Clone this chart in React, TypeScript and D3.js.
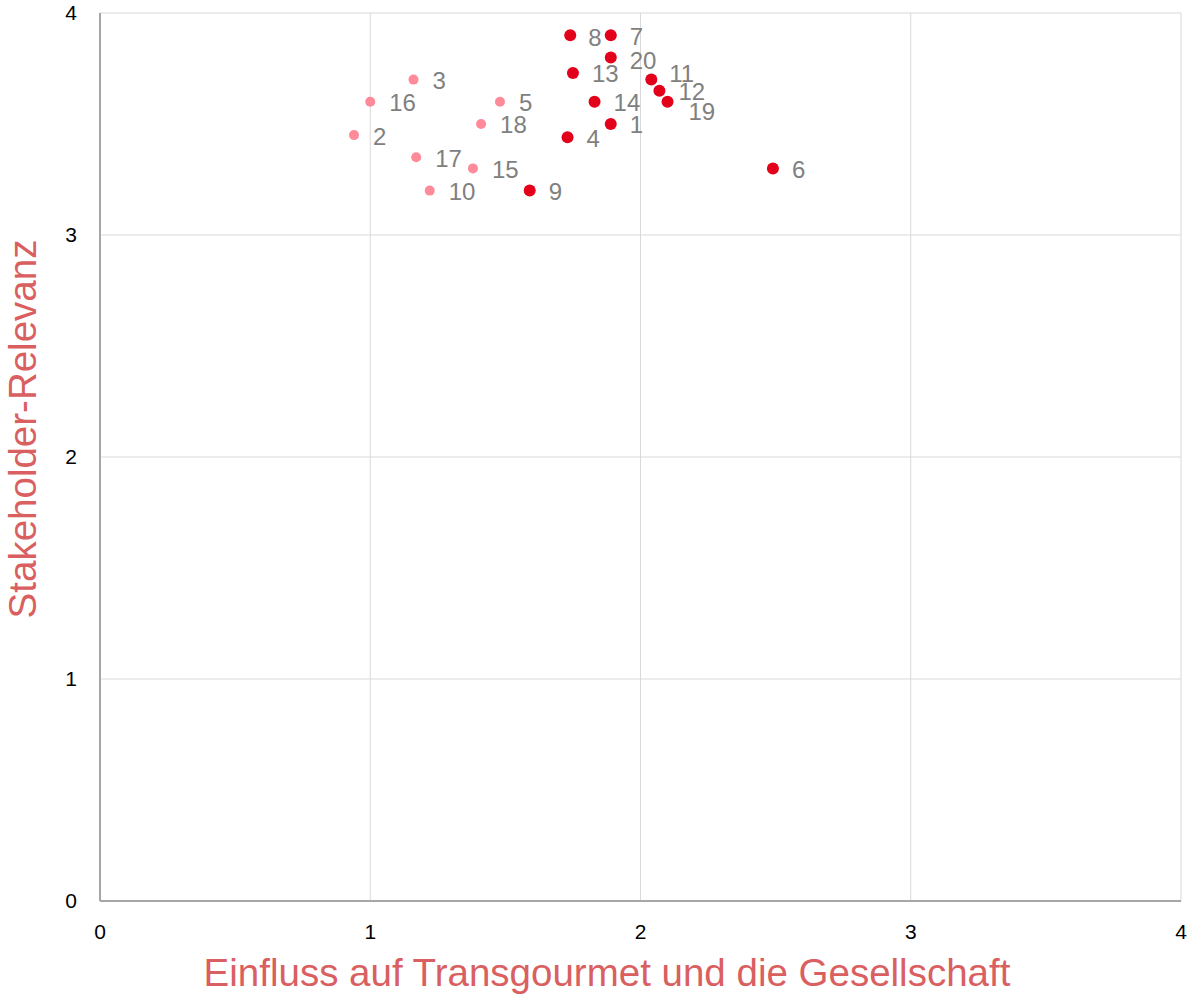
import { useEffect, useRef } from "react"
import * as d3 from "d3"

// topic ids, with x = influence on Transgourmet / society, y = stakeholder relevance
const topicIds = [1, 2, 3, 4, 5, 6, 7, 8, 9, 10, 11, 12, 13, 14, 15, 16, 17, 18, 19, 20]
const influence = [1.89, 0.94, 1.16, 1.73, 1.48, 2.49, 1.89, 1.74, 1.59, 1.22, 2.04, 2.07, 1.75, 1.83, 1.38, 1.0, 1.17, 1.41, 2.1, 1.89]
const relevance = [3.5, 3.45, 3.7, 3.44, 3.6, 3.3, 3.9, 3.9, 3.2, 3.2, 3.7, 3.65, 3.73, 3.6, 3.3, 3.6, 3.35, 3.5, 3.6, 3.8]
// true = material topic (dark red), false = light pink
const material = [true, false, false, true, false, true, true, true, true, false, true, true, true, true, false, false, false, false, true, true]

const xTicks = [0, 1, 2, 3, 4]
const yTicks = [0, 1, 2, 3, 4]

const xTitle = "Einfluss auf Transgourmet und die Gesellschaft"
const yTitle = "Stakeholder-Relevanz"

// small label nudges where labels collide
const labelNudge: Record<number, [number, number]> = {
  11: [-1, -7],
  19: [2, 9],
  20: [0, 2],
  8: [-1, 1],
}

interface Point {
  id: number
  x: number
  y: number
  material: boolean
}

const App = () => {
  const svgRef = useRef<SVGSVGElement | null>(null)

  useEffect(() => {
    if (!svgRef.current) return
    const svg = d3.select(svgRef.current)
    svg.selectAll("*").remove()

    const width = 1191
    const height = 996
    const margin = { top: 13, right: 10, bottom: 95, left: 100 }
    const innerW = width - margin.left - margin.right
    const innerH = height - margin.top - margin.bottom

    const data: Point[] = topicIds.map((id, i) => ({
      id,
      x: influence[i],
      y: relevance[i],
      material: material[i],
    }))

    const x = d3.scaleLinear().domain([0, 4]).range([0, innerW])
    const y = d3.scaleLinear().domain([0, 4]).range([innerH, 0])

    const g = svg.append("g").attr("transform", `translate(${margin.left},${margin.top})`)
    const font = "'Liberation Sans', Arial, sans-serif"

    // grid
    g.append("g")
      .selectAll("line")
      .data(xTicks.slice(1))
      .join("line")
      .attr("x1", (d) => x(d))
      .attr("x2", (d) => x(d))
      .attr("y1", 0)
      .attr("y2", innerH)
      .attr("stroke", "#d9d9d9")
      .attr("stroke-width", 1)

    g.append("g")
      .selectAll("line")
      .data(yTicks.slice(1))
      .join("line")
      .attr("x1", 0)
      .attr("x2", innerW)
      .attr("y1", (d) => y(d))
      .attr("y2", (d) => y(d))
      .attr("stroke", "#d9d9d9")
      .attr("stroke-width", 1)

    // axes lines
    g.append("line")
      .attr("x1", 0)
      .attr("x2", 0)
      .attr("y1", 0)
      .attr("y2", innerH)
      .attr("stroke", "#a6a6a6")
      .attr("stroke-width", 2)
    g.append("line")
      .attr("x1", 0)
      .attr("x2", innerW)
      .attr("y1", innerH)
      .attr("y2", innerH)
      .attr("stroke", "#a6a6a6")
      .attr("stroke-width", 2)

    // tick labels
    g.append("g")
      .selectAll("text")
      .data(yTicks)
      .join("text")
      .attr("x", -23)
      .attr("y", (d) => y(d))
      .attr("dy", "0.35em")
      .attr("text-anchor", "end")
      .attr("font-family", font)
      .attr("font-size", 21)
      .attr("fill", "#000")
      .text((d) => d)

    g.append("g")
      .selectAll("text")
      .data(xTicks)
      .join("text")
      .attr("x", (d) => x(d))
      .attr("y", innerH + 31)
      .attr("dy", "0.35em")
      .attr("text-anchor", "middle")
      .attr("font-family", font)
      .attr("font-size", 21)
      .attr("fill", "#000")
      .text((d) => d)

    // axis titles
    svg.append("text")
      .attr("x", 607)
      .attr("y", 986)
      .attr("text-anchor", "middle")
      .attr("font-family", font)
      .attr("font-size", 38.5)
      .attr("fill", "#d95f61")
      .text(xTitle)

    svg.append("text")
      .attr("transform", `translate(36, 429) rotate(-90)`)
      .attr("text-anchor", "middle")
      .attr("font-family", font)
      .attr("font-size", 38.5)
      .attr("fill", "#d95f61")
      .text(yTitle)

    // points
    g.append("g")
      .selectAll("circle")
      .data(data)
      .join("circle")
      .attr("cx", (d) => x(d.x))
      .attr("cy", (d) => y(d.y))
      .attr("r", (d) => (d.material ? 6 : 5))
      .attr("fill", (d) => (d.material ? "#e2001a" : "#ff8a9a"))

    // labels
    g.append("g")
      .selectAll("text")
      .data(data)
      .join("text")
      .attr("x", (d) => x(d.x) + 19 + (labelNudge[d.id]?.[0] ?? 0))
      .attr("y", (d) => y(d.y) + 1 + (labelNudge[d.id]?.[1] ?? 0))
      .attr("dy", "0.35em")
      .attr("font-family", font)
      .attr("font-size", 24)
      .attr("fill", "#808080")
      .text((d) => d.id)
  }, [])

  return (
    <svg
      ref={svgRef}
      width={1191}
      height={996}
      style={{ position: "absolute", left: 0, top: 0, display: "block", background: "#fff" }}
    />
  )
}

export default App
